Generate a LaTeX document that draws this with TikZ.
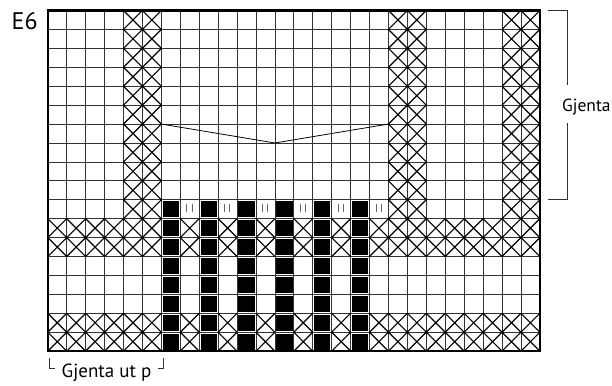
\documentclass[tikz,border=0pt]{standalone}
\usepackage{fontspec}
\setmainfont{PT Sans}
\tikzset{
  gridline/.style={draw=black!80, line width=0.8pt},
  crossline/.style={draw=black, line width=1.15pt},
  blackcell/.style={fill=black},
  marktick/.style={draw=black!60, line width=0.9pt},
  frameline/.style={draw=black, line width=2.4pt},
  vline/.style={draw=black, line width=0.8pt},
  bracket/.style={draw=black!80, line width=0.8pt},
  lbl/.style={inner sep=0pt, anchor=base west}
}
\begin{document}
\begin{tikzpicture}[x=1pt,y=-1pt]
\useasboundingbox (0,0) rectangle (612,385);
\begin{scope}[shift={(47.8,10.5)}, x=18.925pt, y=-18.925pt]
  % grid
  \foreach \i in {1,...,25} \draw[gridline] (\i,0) -- (\i,18);
  \foreach \j in {1,...,17} \draw[gridline] (0,\j) -- (26,\j);
  % vertical cross bands rows 1..11
  \foreach \c in {5,6,19,20,25,26}
    \foreach \r in {1,...,11}
      \draw[crossline] (\c-1,\r-1) -- (\c,\r) (\c-1,\r) -- (\c,\r-1);
  % horizontal cross bands
  \foreach \r in {12,13,17,18}
    \foreach \c in {1,2,3,4,5,6,8,10,12,14,16,18,19,20,21,22,23,24,25,26}
      \draw[crossline] (\c-1,\r-1) -- (\c,\r) (\c-1,\r) -- (\c,\r-1);
  % black cells
  \foreach \c in {7,9,11,13,15,17}
    \foreach \r in {11,...,18}
      \fill[blackcell] (\c-0.93,\r-0.93) rectangle (\c-0.07,\r-0.07);
  % double tick marks
  \foreach \c in {8,10,12,14,16,18}
    \draw[marktick] (\c-0.66,10.22) -- (\c-0.66,10.66) (\c-0.38,10.22) -- (\c-0.38,10.66);
  % V line
  \coordinate (vl) at (6,6);
  \coordinate (vm) at (12,7);
  \coordinate (vr) at (18,6);
  \draw[vline] (vl) -- (vm) -- (vr);
  % frame
  \draw[frameline] (0,0) rectangle (26,18);
\end{scope}
% labels
\node[lbl, font=\fontsize{24}{26}\selectfont] (e6) at (11.5,29.5) {E6};
\node[lbl, font=\fontsize{17.5}{20}\selectfont] (gr) at (562,111.5) {Gjenta};
\node[lbl, font=\fontsize{19}{21}\selectfont] (gb) at (61.5,377.5) {Gjenta ut p};
% right bracket
\coordinate (rb1) at (548,10.5);
\coordinate (rb2) at (567.7,10.5);
\coordinate (rb3) at (567.7,85);
\coordinate (rb4) at (567.7,123);
\coordinate (rb5) at (567.7,199.3);
\coordinate (rb6) at (548,199.3);
\draw[bracket] (rb1) -- (rb2) -- (rb3);
\draw[bracket] (rb4) -- (rb5) -- (rb6);
% bottom bracket
\coordinate (bb1) at (49,358);
\coordinate (bb2) at (49,368);
\coordinate (bb3) at (55,368);
\coordinate (bb4) at (158,368);
\coordinate (bb5) at (163,368);
\coordinate (bb6) at (163,358);
\draw[bracket] (bb1) -- (bb2) -- (bb3);
\draw[bracket] (bb4) -- (bb5) -- (bb6);
\end{tikzpicture}
\end{document}
